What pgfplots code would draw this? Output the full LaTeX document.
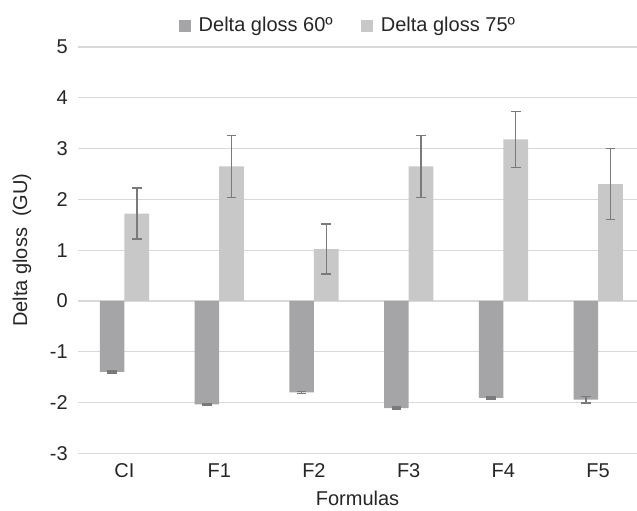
\documentclass[border=0pt]{standalone}
\usepackage{pgfplots}
\pgfplotsset{compat=1.18}
\usepackage{fontspec}
\setmainfont{Liberation Sans}
\definecolor{darkbar}{HTML}{A5A5A8}
\definecolor{lightbar}{HTML}{C8C8C9}
\definecolor{errc}{HTML}{7A7A7A}
\definecolor{gridc}{HTML}{D9D9D9}
\definecolor{txt}{HTML}{262626}
\newcommand{\chartfont}{\fontsize{15}{17}\selectfont}
\begin{document}
\chartfont
\begin{tikzpicture}
\begin{axis}[
  name=ax,
  scale only axis,
  width=419pt, height=304.5pt,
  xmin=-0.49, xmax=5.41,
  ymin=-3, ymax=5,
  ytick={-3,-2,-1,0,1,2,3,4,5},
  xtick={0,1,2,3,4,5},
  xticklabels={CI,F1,F2,F3,F4,F5},
  axis line style={draw=none},
  major tick length=0pt,
  ymajorgrids,
  grid style={gridc, line width=0.9pt},
  tick label style={font=\chartfont, text=txt},
  yticklabel style={xshift=-2.5pt},
  xticklabel style={yshift=-2.4pt},
  /pgf/number format/assume math mode=true,
  xlabel={Formulas},
  ylabel={Delta gloss\ \ (GU)},
  label style={font=\chartfont, text=txt},
  xlabel style={at={(axis description cs:0.5,0)}, anchor=center, yshift=-34pt},
  ylabel style={at={([xshift=-42pt]axis description cs:0,0.5)}, anchor=center},
  bar width=0.26,
  legend style={draw=none, fill=none, at={([xshift=-7pt,yshift=16pt]axis description cs:0.5,1)}, anchor=center,
    font=\chartfont, text=txt, legend columns=2,
    /tikz/every odd column/.append style={column sep=4pt},
    /tikz/every even column/.append style={column sep=19pt}},
  legend image code/.code={\fill[#1] (0pt,-4.5pt) rectangle (9pt,4.5pt);},
  error bars/error bar style={errc, line width=1.1pt},
  error bars/error mark options={errc, line width=1.1pt, mark size=3.6pt, rotate=90},
]
\addplot[ybar, bar shift=0pt, fill=darkbar, draw=none,
  error bars/.cd, y dir=both, y explicit]
  table[x=x, y=y, y error=e] {
x y e
-0.13 -1.40 0.02
0.87 -2.04 0.01
1.87 -1.80 0.02
2.87 -2.11 0.02
3.87 -1.91 0.02
4.87 -1.945 0.065
};
\addlegendentry{Delta gloss 60º}
\addplot[ybar, bar shift=0pt, fill=lightbar, draw=none,
  error bars/.cd, y dir=both, y explicit]
  table[x=x, y=y, y error=e] {
x y e
0.13 1.72 0.50
1.13 2.65 0.61
2.13 1.02 0.49
3.13 2.65 0.61
4.13 3.18 0.55
5.13 2.30 0.70
};
\addlegendentry{Delta gloss 75º}
\end{axis}
\pgfresetboundingbox
\path[use as bounding box] ([shift={(-58.5pt,-43pt)}]ax.south west) rectangle ([shift={(0pt,35.25pt)}]ax.north east);
\end{tikzpicture}
\end{document}
